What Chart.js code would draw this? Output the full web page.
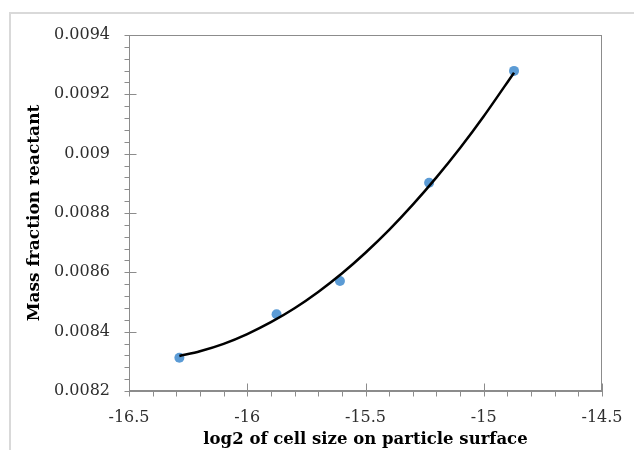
<!DOCTYPE html>
<html>
<head>
<meta charset="utf-8">
<script src="https://cdn.jsdelivr.net/npm/chart.js@4.4.1/dist/chart.umd.min.js"></script>
<style>
    html, body { margin: 0; padding: 0; background: #fff; overflow: hidden; }
    #contenedor { position: relative; width: 634px; height: 450px; }
    #marco { position: absolute; left: 9px; top: 12px; width: 700px; height: 500px; border: 2px solid #d9d9d9; box-sizing: border-box; }
    #grafico { position: absolute; left: 0; top: 0; }
</style>
</head>
<body>
<div id="contenedor">
    <div id="marco"></div>
    <canvas id="grafico" width="634" height="450"></canvas>
</div>
<script>
// puntos medidos
const tamanoCelda = [-16.287, -15.876, -15.608, -15.231, -14.872];
const fraccionMasa = [0.008312, 0.008459, 0.008571, 0.008902, 0.009279];

// linea de tendencia
const tendenciaX = [-16.287, -16.2, -16.1, -16.0, -15.9, -15.8, -15.7, -15.6, -15.5, -15.4, -15.3, -15.2, -15.1, -15.0, -14.872];
const tendenciaY = [0.008318, 0.008334, 0.008359, 0.008392, 0.008432, 0.008479, 0.008534, 0.008596,
                    0.008666, 0.008743, 0.008828, 0.008920, 0.009019, 0.009126, 0.009273];

// etiquetas de los ejes
const ticksX = [-16.5, -16, -15.5, -15, -14.5];
const ticksY = [0.0082, 0.0084, 0.0086, 0.0088, 0.009, 0.0092, 0.0094];
const divisionesMenores = 5;

const colorEje = '#8c8c8c';
const fuente = "'DejaVu Serif', serif";

// marcas de los ejes al estilo Excel (mayores cruzan, menores por fuera)
const marcasEjes = {
    id: 'marcasEjes',
    beforeDatasetsDraw(chart) {
        const { ctx, chartArea: area, scales: { x, y } } = chart;
        ctx.save();
        ctx.strokeStyle = colorEje;
        ctx.lineWidth = 1;
        ctx.strokeRect(Math.round(area.left) + 0.5, Math.round(area.top) + 0.5,
            Math.round(area.right - area.left) - 1, Math.round(area.bottom - area.top) - 1);

        ctx.beginPath();
        const pasoX = (ticksX[1] - ticksX[0]) / divisionesMenores;
        const nx = Math.round((ticksX[ticksX.length - 1] - ticksX[0]) / pasoX);
        for (let i = 0; i <= nx; i++) {
            const px = Math.round(x.getPixelForValue(ticksX[0] + i * pasoX)) + 0.5;
            const base = Math.round(area.bottom) - 0.5;
            const mayor = i % divisionesMenores === 0;
            ctx.moveTo(px, base + 6);
            ctx.lineTo(px, mayor ? base - 7 : base);
        }
        const pasoY = (ticksY[1] - ticksY[0]) / divisionesMenores;
        const ny = Math.round((ticksY[ticksY.length - 1] - ticksY[0]) / pasoY);
        for (let i = 0; i <= ny; i++) {
            const py = Math.round(y.getPixelForValue(ticksY[0] + i * pasoY)) + 0.5;
            const base = Math.round(area.left) + 0.5;
            const mayor = i % divisionesMenores === 0;
            ctx.moveTo(base - 5, py);
            ctx.lineTo(mayor ? base + 7 : base, py);
        }
        ctx.stroke();
        ctx.restore();
    }
};

new Chart(
    document.getElementById('grafico'),
    {
        type: 'scatter',
        data: {
            datasets: [
                {
                    label: 'Tendencia',
                    data: tendenciaX.map((v, i) => ({ x: v, y: tendenciaY[i] })),
                    showLine: true,
                    borderColor: '#000000',
                    borderWidth: 2.5,
                    pointRadius: 0,
                    tension: 0.3
                },
                {
                    label: 'Mass fraction reactant',
                    data: tamanoCelda.map((v, i) => ({ x: v, y: fraccionMasa[i] })),
                    backgroundColor: '#5b9bd5',
                    borderColor: '#5b9bd5',
                    pointRadius: 5,
                    pointBorderWidth: 0
                }
            ]
        },
        options: {
            responsive: false,
            animation: false,
            layout: { padding: { top: 35, right: 32, left: 0, bottom: 0 } },
            plugins: {
                legend: { display: false },
                tooltip: { enabled: false }
            },
            scales: {
                x: {
                    type: 'linear',
                    min: ticksX[0],
                    max: ticksX[ticksX.length - 1],
                    afterBuildTicks: scale => { scale.ticks = ticksX.map(v => ({ value: v })); },
                    afterFit: scale => {
                        scale.height = 59;
                        scale.paddingLeft = 0;
                        scale.paddingRight = 0;
                    },
                    grid: { drawOnChartArea: false, drawTicks: false },
                    border: { color: colorEje },
                    ticks: {
                        padding: 17,
                        color: '#2e2e2e',
                        font: { family: fuente, size: 16 },
                        callback: v => String(v)
                    },
                    title: {
                        display: true,
                        text: 'log2 of cell size on particle surface',
                        color: '#000000',
                        font: { family: fuente, size: 16.5, weight: 'bold', lineHeight: 1 },
                        padding: { top: 0, bottom: 2 }
                    }
                },
                y: {
                    type: 'linear',
                    min: ticksY[0],
                    max: ticksY[ticksY.length - 1],
                    afterBuildTicks: scale => { scale.ticks = ticksY.map(v => ({ value: v })); },
                    afterFit: scale => {
                        scale.width = 129;
                        scale.paddingTop = 0;
                        scale.paddingBottom = 0;
                    },
                    grid: { drawOnChartArea: false, drawTicks: false },
                    border: { color: colorEje },
                    ticks: {
                        padding: 19,
                        color: '#2e2e2e',
                        font: { family: fuente, size: 16 },
                        callback: v => String(Number(v.toFixed(4)))
                    },
                    title: {
                        display: true,
                        text: 'Mass fraction reactant',
                        color: '#000000',
                        font: { family: fuente, size: 17, weight: 'bold', lineHeight: 1 },
                        padding: { top: 26.5, bottom: 0 }
                    }
                }
            }
        },
        plugins: [marcasEjes]
    }
);
</script>
</body>
</html>
